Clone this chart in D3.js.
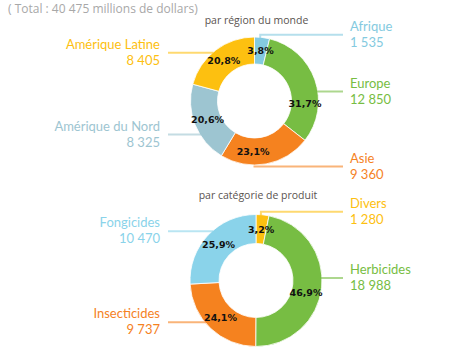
<!DOCTYPE html>
<html><head><meta charset="utf-8">
<script src="https://cdn.jsdelivr.net/npm/d3@7"></script>
<style>
html,body{margin:0;padding:0;background:#fff;}
svg{display:block;}
</style></head>
<body>
<svg id="c" width="472" height="355"></svg>
<script>
// ---- data ----
const totalLabel = "( Total : 40 475 millions de dollars)";
const regionTitle = "par région du monde";
const regionNames = ["Afrique", "Europe", "Asie", "Amérique du Nord", "Amérique Latine"];
const regionValues = [1535, 12850, 9360, 8325, 8405];
const productTitle = "par catégorie de produit";
const productNames = ["Divers", "Herbicides", "Insecticides", "Fongicides"];
const productValues = [1280, 18988, 9737, 10470];

// ---- styles / layout ----
const colors = {
  "Afrique": "#84cae0", "Europe": "#77bd43", "Asie": "#f5821f",
  "Amérique du Nord": "#9dc5d1", "Amérique Latine": "#fdc010",
  "Divers": "#fdc010", "Herbicides": "#77bd43", "Insecticides": "#f5821f", "Fongicides": "#8ad3ea"
};
// label side, baseline of first text line, elbow flag, percent label angle tweak (deg)
const layout = {
  "Afrique": {side: "right", base: 30.7, elbow: true},
  "Europe": {side: "right", base: 87.5, tweak: 22},
  "Asie": {side: "right", base: 162.5, tweak: 12},
  "Amérique du Nord": {side: "left", base: 130.5},
  "Amérique Latine": {side: "left", base: 48.7},
  "Divers": {side: "right", base: 207.8, elbow: true},
  "Herbicides": {side: "right", base: 274, tweak: 8},
  "Insecticides": {side: "left", base: 318.3},
  "Fongicides": {side: "left", base: 227.3}
};

const svg = d3.select("#c");
const fmt = v => d3.format(",")(v).replace(/,/g, " ");
const pct = v => d3.format(".1f")(v).replace(".", ",") + "%";

svg.append("text").attr("x", 8).attr("y", 13)
  .attr("font-family", "Open Sans, sans-serif").attr("font-size", 12)
  .attr("fill", "#a8a8a8").text(totalLabel);

function donut(names, values, title, cx, cy, r, ri, titleY) {
  const total = d3.sum(values);
  const data = names.map((n, i) => ({name: n, value: values[i]}));
  const pie = d3.pie().value(d => d.value).sort(null).startAngle(0).endAngle(2 * Math.PI);
  const arcs = pie(data);
  const arc = d3.arc().innerRadius(ri).outerRadius(r);
  const g = svg.append("g").attr("transform", `translate(${cx},${cy})`);

  svg.append("text").attr("x", cx + 2).attr("y", titleY).attr("text-anchor", "middle")
    .attr("font-family", "Open Sans, sans-serif").attr("font-size", 10.5)
    .attr("fill", "#5a5350").text(title);

  g.selectAll("path.seg").data(arcs).join("path").attr("class", "seg")
    .attr("d", arc).attr("fill", d => colors[d.data.name])
    .attr("stroke", "#fff").attr("stroke-width", 0.8);

  const rl = (r + ri) / 2;
  g.selectAll("text.pct").data(arcs).join("text").attr("class", "pct")
    .attr("transform", d => {
      const L = layout[d.data.name];
      const a = (d.startAngle + d.endAngle) / 2 + ((L.tweak || 0) * Math.PI / 180);
      return `translate(${rl * Math.sin(a)},${-rl * Math.cos(a)})`;
    })
    .attr("text-anchor", "middle").attr("dy", "0.35em")
    .attr("font-family", "DejaVu Sans, sans-serif").attr("font-weight", "bold")
    .attr("font-size", 9.5).attr("fill", "#111")
    .text(d => pct(d.data.value / total * 100));

  arcs.forEach(d => {
    const L = layout[d.data.name];
    const col = colors[d.data.name];
    const ly = L.base + 4;
    let pts;
    if (L.elbow) {
      const a = (d.startAngle + d.endAngle) / 2 * 0.75;
      const ex = cx + r * Math.sin(a), ey = cy - r * Math.cos(a);
      pts = [[ex, ey + 1], [ex, ly], [343, ly]];
    } else {
      const dy = ly - cy;
      const dx = Math.sqrt(Math.max(0, r * r - dy * dy));
      pts = L.side === "right" ? [[cx + dx - 1, ly], [343, ly]] : [[168, ly], [cx - dx + 1, ly]];
    }
    svg.append("path").attr("d", d3.line()(pts)).attr("fill", "none")
      .attr("stroke", col).attr("stroke-opacity", 0.6).attr("stroke-width", 2);
    const tx = L.side === "right" ? 350 : 160;
    const anchor = L.side === "right" ? "start" : "end";
    const t = svg.append("text").attr("x", tx).attr("y", L.base).attr("text-anchor", anchor)
      .attr("font-family", "Lato, sans-serif").attr("font-size", 13).attr("fill", col);
    t.append("tspan").attr("x", tx).text(d.data.name);
    t.append("tspan").attr("x", tx).attr("dy", 16).text(fmt(d.data.value));
  });
}

donut(regionNames, regionValues, regionTitle, 254.5, 101, 64, 37, 23.5);
donut(productNames, productValues, productTitle, 256, 280.5, 66, 37, 199);
</script>
</body></html>
